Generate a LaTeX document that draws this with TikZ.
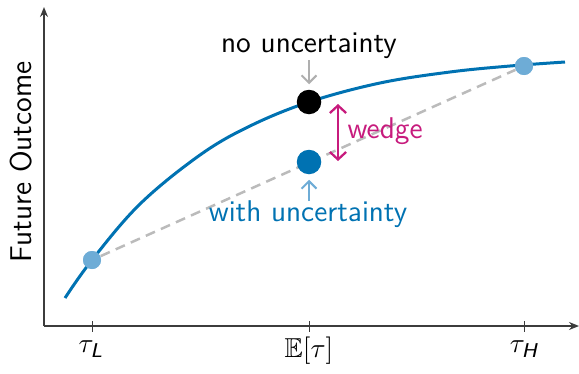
\documentclass[tikz,border=0pt]{standalone}
\usepackage{amsmath,amssymb}
\usetikzlibrary{arrows.meta}
\renewcommand{\familydefault}{\sfdefault}
\definecolor{cblue}{RGB}{0,114,178}
\definecolor{lblue}{RGB}{110,172,214}
\definecolor{wmag}{RGB}{199,27,125}
\definecolor{dgray}{RGB}{187,187,187}
\definecolor{agray}{RGB}{175,175,175}
\definecolor{axgray}{RGB}{60,60,60}
\begin{document}
\begin{tikzpicture}[x=0.4pt,y=-0.4pt,
  axisline/.style={axgray,line width=0.6pt,-{Stealth[length=4pt,width=3.2pt]}},
  tickline/.style={axgray,line width=0.4pt},
  bigdot/.style={circle,inner sep=0pt,minimum size=9.8pt},
  smalldot/.style={circle,inner sep=0pt,minimum size=7.2pt,fill=lblue},
  pointer/.style={line width=0.8pt,-{Straight Barb[length=3pt,width=6pt]}},
  lbl/.style={inner sep=0pt,font=\fontsize{12}{14}\selectfont},
  ticklbl/.style={inner sep=0pt,font=\fontsize{10.95}{13.6}\selectfont}]
\useasboundingbox (0,0) rectangle (579,373);
% axes
\coordinate (O) at (44,326);
\coordinate (ytop) at (44,7);
\coordinate (xend) at (579,326);
\draw[axisline] (O) -- (ytop);
\draw[axisline] (O) -- (xend);
% ticks
\foreach \x/\n in {92/tl,309/te,524/th}{
  \coordinate (\n a) at (\x,321);
  \coordinate (\n b) at (\x,332);
  \draw[tickline] (\n a) -- (\n b);
}
\node[ticklbl] (tL) at (91,349) {$\tau_{\textsf{\slshape L}}$};
\node[ticklbl] (tE) at (309,351) {$\mathbb{E}[\tau]$};
\node[ticklbl] (tH) at (524,349) {$\tau_{\textsf{\slshape H}}$};
% y label
\node[inner sep=0pt,rotate=90,font=\fontsize{12}{14}\selectfont] (ylab) at (21,162) {Future Outcome};
% curve
\draw[cblue,line width=1.2pt] plot[smooth,tension=0.6] coordinates
  {(65,298) (92,260) (140,204) (200,155) (250,126) (309,102) (380,83) (450,72) (510,66) (565,62)};
% dashed chord
\node[smalldot] (lo) at (92,260) {};
\node[smalldot] (hi) at (524,66) {};
\draw[dgray,line width=1pt,dash pattern=on 4pt off 2.6pt] (lo) -- (hi);
\node[smalldot] at (92,260) {};
\node[smalldot] at (524,66) {};
% dots
\node[bigdot,fill=black] (nod) at (309,102) {};
\node[bigdot,fill=cblue] (wd) at (309,162) {};
% labels
\node[lbl] (nolab) at (309,46) {no uncertainty};
\node[lbl,text=cblue] (wlab) at (308,214) {with uncertainty};
\coordinate (na) at (309,60);
\coordinate (wa) at (309,201);
\draw[pointer,agray] (na) -- ([yshift=2pt]nod.north);
\draw[pointer,lblue] (wa) -- ([yshift=-2pt]wd.south);
% wedge
\coordinate (wtop) at (338,104);
\coordinate (wbot) at (338,161);
\draw[wmag,line width=0.9pt,{Straight Barb[length=3pt,width=6.5pt]}-{Straight Barb[length=3pt,width=6.5pt]}] (wtop) -- (wbot);
\node[lbl,text=wmag,anchor=west] (wlbl) at (347,131) {wedge};
\end{tikzpicture}
\end{document}
